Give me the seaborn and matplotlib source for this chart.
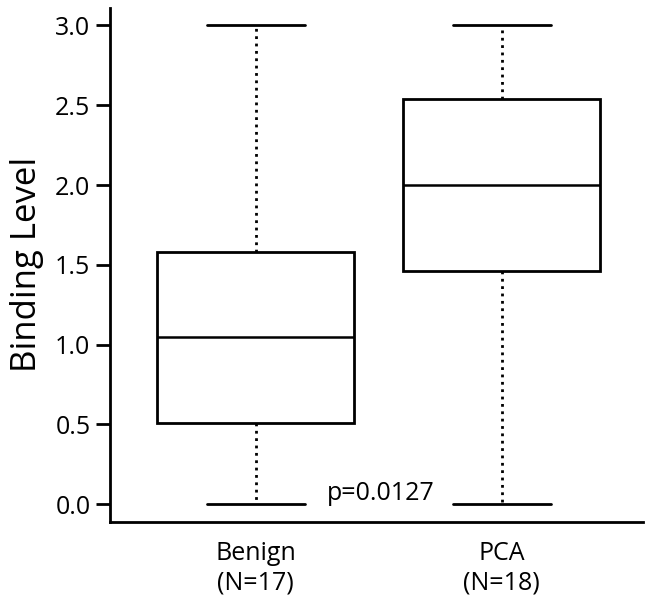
import pandas as pd
import seaborn as sns
import matplotlib.pyplot as plt

# Five-number summaries (min, Q1, median, Q3, max)
groups = ["Benign", "PCA"]
group_sizes = [17, 18]
benign_values = [0.0, 0.51, 1.05, 1.58, 3.0]
pca_values = [0.0, 1.46, 2.0, 2.54, 3.0]
p_value_text = "p=0.0127"

sns.set_style("ticks")
plt.rcParams["font.family"] = ["Open Sans", "DejaVu Sans"]
plt.rcParams.update({
    "text.color": "black",
    "axes.labelcolor": "black",
    "axes.edgecolor": "black",
    "xtick.color": "black",
    "ytick.color": "black",
})

# Long-form table for seaborn
df = pd.DataFrame({
    "group": [groups[0]] * len(benign_values) + [groups[1]] * len(pca_values),
    "level": benign_values + pca_values,
})

fig = plt.figure(figsize=(6.5, 6.04), dpi=100)
ax = fig.add_axes([0.169, 0.136, 0.82, 0.851])

sns.boxplot(data=df, x="group", y="level", order=groups,
            whis=(0, 100), width=0.8, color="white", linecolor="black",
            linewidth=2,
            whiskerprops=dict(linestyle=":", linewidth=2),
            capprops=dict(linewidth=2),
            medianprops=dict(linewidth=1.8),
            ax=ax)

ax.set_xlim(-0.593, 1.573)
ax.set_ylim(-0.11, 3.11)
ticks = [0.0, 0.5, 1.0, 1.5, 2.0, 2.5, 3.0]
ax.set_yticks(ticks)
ax.set_yticklabels([f"{v:.1f}" for v in ticks], fontweight="medium")
ax.set_xticks(range(len(groups)))
ax.set_xticklabels([f"{g}\n(N={n})" for g, n in zip(groups, group_sizes)],
                   fontsize=18, linespacing=1.2, fontweight="medium")

ax.tick_params(axis="y", length=10, width=2, labelsize=18, pad=4)
ax.tick_params(axis="x", length=0, pad=14)
ax.set_xlabel("")
ax.set_ylabel("Binding Level", fontsize=25, labelpad=8, fontweight="medium")

sns.despine(ax=ax)
for side in ["left", "bottom"]:
    ax.spines[side].set_linewidth(2)

ax.text(0.508, 0.07, p_value_text, ha="center", va="center", fontsize=18,
        fontweight="medium")

fig.savefig("out.png", dpi=100)
